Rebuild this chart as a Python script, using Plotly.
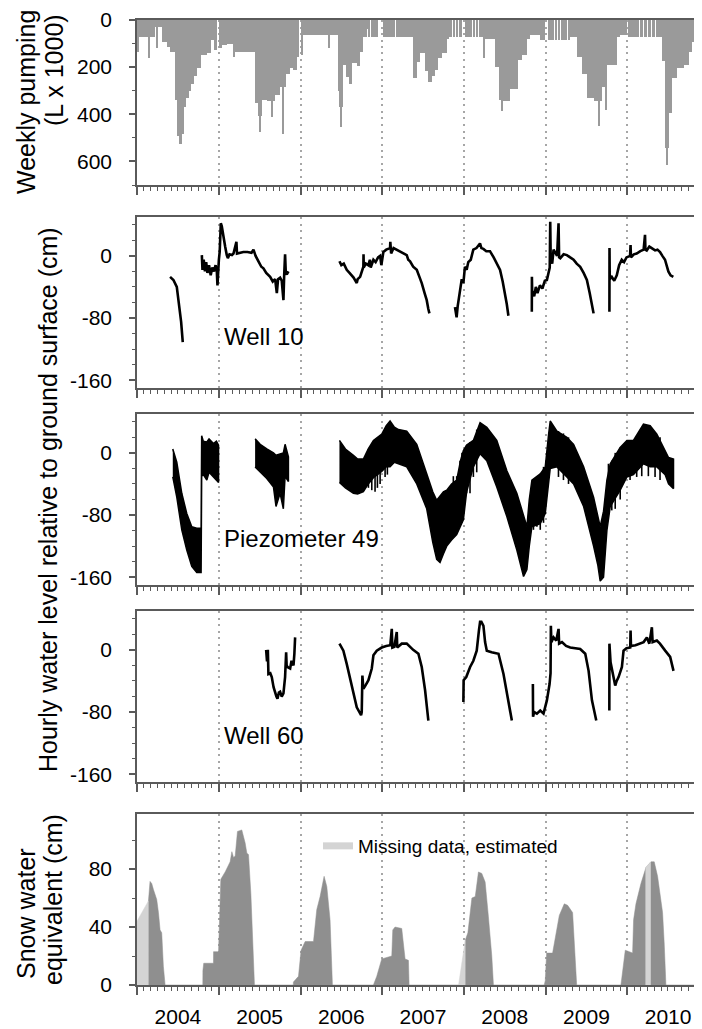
import calendar
from datetime import datetime, timedelta
import plotly.graph_objects as go

# ---------------- DATA (decimal years) ----------------
# Weekly pumping (L x 1000): start of each constant-pumping run and its value
pump_start = [
    2004.000, 2004.016, 2004.139, 2004.160, 2004.220, 2004.241, 2004.262, 2004.300, 2004.363, 2004.400,
    2004.465, 2004.486, 2004.515, 2004.547, 2004.578, 2004.600, 2004.630, 2004.660, 2004.700, 2004.735,
    2004.780, 2004.850, 2004.905, 2004.945, 2004.975,
    2005.005, 2005.036, 2005.097, 2005.175, 2005.190, 2005.444, 2005.485, 2005.500, 2005.510, 2005.526,
    2005.590, 2005.640, 2005.660, 2005.689, 2005.750, 2005.785, 2005.800, 2005.811, 2005.873, 2005.914,
    2005.954, 2005.985,
    2006.010, 2006.036, 2006.340, 2006.360, 2006.464, 2006.480, 2006.495, 2006.505, 2006.525, 2006.560,
    2006.590, 2006.628, 2006.689, 2006.730, 2006.770, 2006.811, 2006.832, 2006.850, 2006.865, 2006.885,
    2006.900, 2006.920, 2006.935, 2006.955,
    2007.015, 2007.158, 2007.170, 2007.383, 2007.424, 2007.464, 2007.525, 2007.566, 2007.607, 2007.648,
    2007.689, 2007.730, 2007.790, 2007.820, 2007.830, 2007.852, 2007.865, 2007.895, 2007.905, 2007.935,
    2007.950, 2007.974,
    2008.015, 2008.035, 2008.045, 2008.070, 2008.080, 2008.105, 2008.115, 2008.140, 2008.150, 2008.175,
    2008.185, 2008.210, 2008.220, 2008.240, 2008.250, 2008.380, 2008.424, 2008.464, 2008.485, 2008.566,
    2008.668, 2008.709, 2008.770, 2008.811, 2008.934, 2008.995,
    2009.036, 2009.060, 2009.070, 2009.100, 2009.110, 2009.140, 2009.150, 2009.180, 2009.190, 2009.220,
    2009.230, 2009.260, 2009.270, 2009.301, 2009.383, 2009.444, 2009.505, 2009.587, 2009.648, 2009.660,
    2009.689, 2009.730, 2009.745, 2009.873, 2009.913, 2009.995,
    2010.010, 2010.040, 2010.050, 2010.090, 2010.100, 2010.140, 2010.150, 2010.190, 2010.200, 2010.240,
    2010.250, 2010.290, 2010.300, 2010.340, 2010.350, 2010.390, 2010.400, 2010.424, 2010.464, 2010.480,
    2010.495, 2010.505, 2010.546, 2010.607, 2010.689, 2010.750, 2010.791, 2010.852, 2010.880, 2010.895,
]
pump_val = [
    134, 73, 160, 73, 28, 118, 28, 95, 115, 135,
    340, 490, 525, 484, 367, 333, 300, 270, 237, 203,
    148, 141, 86, 127, 0,
    120, 107, 100, 155, 134, 353, 408, 477, 408, 340,
    345, 410, 345, 320, 285, 484, 285, 230, 203, 210,
    155, 0,
    148, 63, 120, 63, 300, 367, 456, 367, 190, 240,
    270, 182, 196, 134, 73, 38, 73, 0, 73, 0,
    73, 0, 73, 0,
    73, 0, 73, 244, 180, 141, 216, 264, 237, 210,
    160, 140, 80, 0, 73, 0, 73, 0, 73, 0,
    73, 0,
    73, 0, 73, 0, 73, 0, 73, 0, 73, 0,
    73, 0, 73, 160, 80, 200, 340, 388, 345, 292,
    168, 150, 80, 65, 86, 0,
    86, 0, 86, 0, 86, 0, 86, 0, 86, 0,
    86, 0, 86, 70, 155, 230, 333, 345, 450, 345,
    285, 380, 190, 73, 65, 0,
    70, 0, 70, 0, 70, 0, 70, 0, 70, 0,
    70, 0, 70, 0, 70, 0, 70, 175, 545, 614,
    545, 394, 244, 203, 190, 134, 93, 59, 0, 59,
]
pump_end = 2010.930

# Well 10 hourly level (cm), None separates gaps
w10_t = [2004.404, 2004.420, 2004.445, 2004.486, 2004.518, 2004.539, 2004.559, None,
         2004.792, 2004.800, 2004.815, 2004.830, 2004.845, 2004.860, 2004.880, 2004.900, 2004.920, 2004.940,
         2004.960, 2004.975, 2004.983, 2004.990, 2005.000, 2005.010, 2005.024, 2005.036, 2005.057, 2005.077,
         2005.097, 2005.110, 2005.130, 2005.160, 2005.179, 2005.215, 2005.222, 2005.260, 2005.300, 2005.350,
         2005.400, 2005.424, 2005.450, 2005.485, 2005.520, 2005.546, 2005.580, 2005.628, 2005.660, 2005.689,
         2005.710, 2005.725, 2005.750, 2005.770, 2005.791, 2005.800, 2005.811, 2005.820, 2005.832, 2005.852, None,
         2006.477, 2006.500, 2006.530, 2006.566, 2006.600, 2006.650, 2006.689, 2006.700, 2006.730, 2006.750,
         2006.770, 2006.772, 2006.775, 2006.800, 2006.830, 2006.850, 2006.860, 2006.893, 2006.920, 2006.950,
         2006.975, 2006.990, 2007.015, 2007.050, 2007.097, 2007.100, 2007.110, 2007.140, 2007.179, 2007.220,
         2007.260, 2007.301, 2007.320, 2007.342, 2007.380, 2007.424, 2007.460, 2007.485, 2007.520, 2007.546,
         2007.565, 2007.579, None,
         2007.892, 2007.905, 2007.912, 2007.925, 2007.953, 2007.975, 2007.995, 2008.014, 2008.035, 2008.055,
         2008.085, 2008.116, 2008.155, 2008.198, 2008.215, 2008.239, 2008.275, 2008.320, 2008.365, 2008.402,
         2008.443, 2008.475, 2008.504, 2008.525, 2008.545, None,
         2008.831, 2008.832, 2008.835, 2008.860, 2008.880, 2008.900, 2008.930, 2008.960, 2008.990, 2009.015,
         2009.035, 2009.050, 2009.056, 2009.062, 2009.080, 2009.097, 2009.140, 2009.158, 2009.165, 2009.179,
         2009.220, 2009.260, 2009.300, 2009.342, 2009.380, 2009.423, 2009.465, 2009.505, 2009.540, 2009.587, None,
         2009.781, 2009.782, 2009.785, 2009.810, 2009.840, 2009.871, 2009.900, 2009.932, 2009.960, 2009.990,
         2010.034, 2010.040, 2010.045, 2010.080, 2010.115, 2010.160, 2010.200, 2010.217, 2010.222, 2010.238,
         2010.270, 2010.299, 2010.340, 2010.370, 2010.401, 2010.430, 2010.462, 2010.503, 2010.530, 2010.564]
w10_v = [-27, -29, -31, -40, -65, -85, -111, None,
         1, -18, -5, -20, -8, -22, -12, -25, -15, -20,
         -12, -20, -38, -15, -5, 5, 42, 38, 22, 12,
         1, -3, 2, 1, 3, 18, 3, 4, 5, 5,
         4, 8, 0, -7, -14, -16, -22, -27, -33, -30,
         -48, -30, -28, -32, -57, -25, 2, -22, -24, -20, None,
         -7, -12, -10, -18, -22, -28, -35, -30, -27, -20,
         -14, 2, -15, -10, -12, -5, -15, -5, -8, -2,
         0, -12, 5, 8, 10, 18, 3, 10, 8, 6,
         4, 1, -5, -7, -14, -18, -28, -35, -48, -57,
         -68, -74, None,
         -66, -75, -79, -65, -44, -30, -35, -14, -18, -8,
         -5, 8, 10, 16, 10, 9, 6, 6, -2, -10,
         -18, -33, -48, -62, -77, None,
         -72, -27, -45, -52, -40, -48, -38, -42, -32, -31,
         -22, -15, 44, -5, -10, 8, 0, 42, -2, -3,
         2, 1, -2, -5, -10, -14, -22, -31, -48, -74, None,
         -72, 10, -30, -27, -32, -25, -12, -5, -8, -2,
         0, 14, -2, 2, 3, 6, 8, 27, 8, 7,
         12, 10, 7, 8, 5, 0, -5, -20, -25, -27]

# Piezometer 49: envelope of hourly fluctuation (upper / lower), None separates gaps
pz_t = [2004.437, 2004.486, 2004.547, 2004.608, 2004.669, 2004.730, 2004.783, 2004.790, 2004.810, 2004.853,
        2004.880, 2004.934, 2004.970, 2004.996, None,
        2005.444, 2005.506, 2005.587, 2005.669, 2005.700, 2005.750, 2005.790, 2005.811, 2005.852, None,
        2006.477, 2006.550, 2006.648, 2006.700, 2006.770, 2006.830, 2006.893, 2006.995, 2007.050, 2007.097,
        2007.150, 2007.200, 2007.301, 2007.424, 2007.546, 2007.620, 2007.668, 2007.709, 2007.750, 2007.791,
        2007.850, 2007.913, 2007.960, 2007.995, 2008.035, 2008.117, 2008.199, 2008.281, 2008.403, 2008.526,
        2008.648, 2008.700, 2008.730, 2008.771, 2008.800, 2008.832, 2008.934, 2008.995, 2009.036, 2009.056,
        2009.138, 2009.260, 2009.342, 2009.465, 2009.587, 2009.640, 2009.668, 2009.709, 2009.750, 2009.791,
        2009.913, 2009.995, 2010.075, 2010.198, 2010.280, 2010.362, 2010.464, 2010.505, 2010.566]
pz_hi = [5, -12, -52, -78, -95, -97, -97, 22, 15, 14,
         18, 12, 15, 10, None,
         18, 11, 5, 0, -3, -1, 0, 11, -5, None,
         16, 5, -3, -8, -8, 5, 16, 24, 35, 41,
         33, 30, 28, 11, -27, -50, -61, -55, -50, -48,
         -40, -35, -10, 3, 10, 16, 39, 33, 16, -23,
         -52, -70, -82, -95, -60, -35, -27, -18, 24, 41,
         28, 20, 11, -18, -57, -80, -95, -75, -35, -14,
         7, 16, 16, 37, 35, 24, 3, -6, -8]
pz_lo = [-31, -57, -99, -125, -146, -154, -154, -30, -28, -35,
         -25, -30, -35, -38, None,
         -18, -25, -33, -44, -69, -52, -72, -30, -37, None,
         -38, -45, -52, -53, -50, -40, -32, -24, -18, -18,
         -12, -14, -18, -40, -72, -115, -137, -141, -130, -120,
         -112, -105, -95, -86, -50, -18, -1, -10, -44, -82,
         -125, -145, -159, -150, -120, -95, -91, -78, -40, -20,
         -18, -31, -40, -69, -120, -145, -165, -160, -100, -69,
         -48, -31, -28, -14, -18, -18, -28, -40, -46]
# Piezometer 49: individual downward spikes (time, top, bottom)
pz_spk_t = [2006.832, 2006.873, 2006.913, 2006.942, 2006.975, 2007.036, 2007.064, 2007.872, 2007.913, 2007.954,
            2007.978, 2008.035, 2008.076, 2008.117, 2008.158, 2008.851, 2008.893, 2008.934, 2008.974, 2009.157,
            2009.218, 2009.280, 2009.769, 2009.810, 2009.852, 2009.913, 2010.034, 2010.115, 2010.177, 2010.258,
            2010.340, 2010.401]
pz_spk_hi = [5, 10, 16, 18, 22, 30, 35, -30, -30, -10,
             0, 10, 14, 16, 30, -35, -30, -27, -18, 28,
             25, 20, -14, -10, 0, 7, 16, 20, 30, 35,
             25, 20]
pz_spk_lo = [-45, -48, -50, -45, -40, -31, -28, -99, -99, -95,
             -90, -52, -52, -31, -25, -99, -95, -99, -90, -31,
             -35, -40, -74, -74, -72, -60, -35, -31, -30, -30,
             -31, -35]

# Well 60 hourly level (cm)
w60_t = [2005.579, 2005.590, 2005.600, 2005.607, 2005.630, 2005.648, 2005.670, 2005.689, 2005.705, 2005.718,
         2005.735, 2005.750, 2005.770, 2005.791, 2005.805, 2005.811, 2005.824, 2005.830, 2005.840, 2005.873,
         2005.890, 2005.914, 2005.925, 2005.934, None,
         2006.477, 2006.500, 2006.525, 2006.566, 2006.628, 2006.689, 2006.742, 2006.750, 2006.758, 2006.770,
         2006.800, 2006.832, 2006.873, 2006.893, 2006.934, 2006.995, 2007.050, 2007.100, 2007.118, 2007.125,
         2007.150, 2007.179, 2007.185, 2007.240, 2007.301, 2007.380, 2007.444, 2007.485, 2007.526, 2007.566, None,
         2007.995, 2007.998, 2008.030, 2008.077, 2008.117, 2008.158, 2008.185, 2008.199, 2008.215, 2008.240,
         2008.260, 2008.281, 2008.340, 2008.424, 2008.485, 2008.526, 2008.587, None,
         2008.844, 2008.846, 2008.860, 2008.893, 2008.934, 2008.974, 2009.015, 2009.048, 2009.060, 2009.064,
         2009.070, 2009.097, 2009.130, 2009.158, 2009.165, 2009.200, 2009.250, 2009.301, 2009.360, 2009.423,
         2009.485, 2009.526, 2009.567, 2009.620, None,
         2009.780, 2009.781, 2009.795, 2009.830, 2009.852, 2009.870, 2009.893, 2009.934, 2009.954, 2009.990,
         2010.036, 2010.040, 2010.045, 2010.100, 2010.158, 2010.200, 2010.240, 2010.270, 2010.301, 2010.310,
         2010.362, 2010.400, 2010.464, 2010.525, 2010.566]
w60_v = [0, -15, 0, -31, -30, -35, -48, -56, -60, -63,
         -55, -54, -60, -56, -45, -35, -3, -20, -22, -24,
         -14, -20, -5, 16, None,
         8, 3, -1, -18, -48, -74, -84, -80, -33, -50,
         -45, -39, -24, -7, -1, 3, 5, 6, 27, 3,
         4, 23, 3, 8, 8, 0, -5, -22, -52, -91, None,
         -67, -39, -35, -22, -14, -1, 25, 36, 36, 31,
         10, -1, -3, -5, -31, -56, -91, None,
         -44, -86, -80, -82, -78, -82, -65, -44, -30, 31,
         10, 16, 12, 27, 8, 10, 5, 3, 2, 1,
         -5, -27, -65, -91, None,
         -78, 8, -16, -35, -46, -40, -35, -22, -1, 2,
         3, 25, 5, 6, 8, 10, 16, 8, 29, 10,
         12, 8, -1, -9, -27]

# Snow water equivalent (cm), measured
snow_t = [2004.139, 2004.140, 2004.159, 2004.180, 2004.200, 2004.241, 2004.262, 2004.282, 2004.302, 2004.322,
          2004.343, 2004.804, 2004.805, 2004.815, 2004.934, 2004.935, 2004.996, 2005.024, 2005.077, 2005.138,
          2005.159, 2005.180, 2005.200, 2005.228, 2005.281, 2005.322, 2005.343, 2005.363, 2005.392, 2005.416,
          2005.436, 2005.912, 2005.913, 2005.975, 2006.007, 2006.057, 2006.159, 2006.199, 2006.240, 2006.289,
          2006.322, 2006.362, 2006.391, 2006.893, 2006.934, 2006.995, 2007.118, 2007.130, 2007.158, 2007.240,
          2007.260, 2007.281, 2007.322, 2007.330, 2008.018, 2008.019, 2008.050, 2008.099, 2008.140, 2008.179,
          2008.220, 2008.261, 2008.301, 2008.342, 2008.362, 2008.983, 2008.995, 2009.012, 2009.085, 2009.167,
          2009.228, 2009.269, 2009.330, 2009.371, 2009.380, 2009.922, 2009.975, 2010.024, 2010.065, 2010.077,
          2010.106, 2010.167, 2010.228, 2010.290, 2010.330, 2010.371, 2010.432, 2010.452, 2010.473, 2010.910,
          2010.930]
snow_v = [0, 58, 71.5, 70, 66, 59, 50, 38, 36, 13,
          0, 0, 10, 15, 15, 23, 23, 73, 78, 85,
          92, 88, 89, 106, 107, 98, 91, 90, 63, 31,
          0, 0, 2, 6, 24, 30, 30, 52, 61, 75,
          68, 45, 0, 0, 6, 18, 20, 38, 40, 39,
          28, 18, 17, 0, 0, 31, 36, 60, 61, 78,
          77, 71, 47, 20, 0, 0, 3, 22, 22, 48,
          56, 55, 50, 1, 0, 0, 24, 23, 22, 45,
          56, 70, 81, 85, 85, 75, 50, 29, 0, 0,
          18]
# Snow water equivalent (cm), missing data estimated
est_t = [2004.000, 2004.139, None, 2007.936, 2008.018, None, 2010.222, 2010.288]
est_v = [44, 58, None, 0, 31, None, 81, 85]

year_ticks_start = 2004.0
x_end = 2011.013
y_ticks_level = [-160, -80, 0]
y_ticks_level_text = ['-160', '-80', '0']

# ---------------- HELPERS ----------------
def to_dt(v):
    y = int(v)
    days = 366 if calendar.isleap(y) else 365
    return datetime(y, 1, 1) + timedelta(days=(v - y) * days)

def yd(v):
    return None if v is None else to_dt(v).strftime('%Y-%m-%d %H:%M:%S')

def split(ts, *vals):
    segs, cur = [], [[] for _ in range(len(vals) + 1)]
    for i, t in enumerate(ts):
        if t is None:
            segs.append(cur)
            cur = [[] for _ in range(len(vals) + 1)]
        else:
            cur[0].append(t)
            for k, v in enumerate(vals):
                cur[k + 1].append(v[i])
    if cur[0]:
        segs.append(cur)
    return segs

FONT = "Arial, 'Liberation Sans', sans-serif"
AX = '#5a5a5a'
BAR = '#9a9a9a'
SNOW = '#8f8f8f'
EST = '#d4d4d4'

fig = go.Figure()

# Pumping bars
ends = pump_start[1:] + [pump_end]
bx, bw = [], []
for s, e in zip(pump_start, ends):
    ds, de = to_dt(s), to_dt(e)
    bx.append((ds + (de - ds) / 2).strftime('%Y-%m-%d %H:%M:%S'))
    bw.append((de - ds).total_seconds() * 1000)
fig.add_trace(go.Bar(x=bx, y=pump_val, width=bw, marker=dict(color=BAR, line=dict(width=0)),
                     xaxis='x', yaxis='y', showlegend=False, hoverinfo='skip'))

# Well 10
fig.add_trace(go.Scatter(x=[yd(t) for t in w10_t], y=w10_v, mode='lines',
                         line=dict(color='black', width=2.6), connectgaps=False,
                         xaxis='x2', yaxis='y2', showlegend=False))

# Piezometer 49 band
for seg_t, seg_hi, seg_lo in split(pz_t, pz_hi, pz_lo):
    xs = [yd(t) for t in seg_t] + [yd(t) for t in seg_t[::-1]]
    ys = list(seg_hi) + list(seg_lo[::-1])
    fig.add_trace(go.Scatter(x=xs, y=ys, mode='lines', fill='toself', fillcolor='black',
                             line=dict(color='black', width=1.5), xaxis='x3', yaxis='y3', showlegend=False))
sx, sy = [], []
for t, h, l in zip(pz_spk_t, pz_spk_hi, pz_spk_lo):
    sx += [yd(t), yd(t), None]
    sy += [h, l, None]
fig.add_trace(go.Scatter(x=sx, y=sy, mode='lines', line=dict(color='black', width=1.6),
                         xaxis='x3', yaxis='y3', showlegend=False))

# Well 60
fig.add_trace(go.Scatter(x=[yd(t) for t in w60_t], y=w60_v, mode='lines',
                         line=dict(color='black', width=2.6), connectgaps=False,
                         xaxis='x4', yaxis='y4', showlegend=False))

# Snow
fig.add_trace(go.Scatter(x=[yd(t) for t in snow_t], y=snow_v, mode='lines', fill='tozeroy',
                         fillcolor=SNOW, line=dict(color=SNOW, width=0.5),
                         xaxis='x5', yaxis='y5', showlegend=False))
for seg_t, seg_v in split(est_t, est_v):
    fig.add_trace(go.Scatter(x=[yd(t) for t in seg_t], y=seg_v, mode='lines', fill='tozeroy',
                             fillcolor=EST, line=dict(color=EST, width=0.5),
                             xaxis='x5', yaxis='y5', showlegend=False))
fig.add_trace(go.Scatter(x=[None], y=[None], mode='lines', line=dict(color=EST, width=7),
                         name='Missing data, estimated', xaxis='x5', yaxis='y5', showlegend=True))

# ---------------- LAYOUT ----------------
# The page shows the figure offset by the default 8px body margin; all pixel
# positions below are page pixels, converted to figure/paper coordinates.
OFF = 8
PLOT_L, PLOT_T, PLOT_B = 137, 20, 985          # page pixels
FIG_W, FIG_H = 702, 1029
M_L = PLOT_L - OFF
M_T = PLOT_T - OFF
M_B = FIG_H - (PLOT_B - OFF)
PLOT_W = FIG_W - M_L
PLOT_H = PLOT_B - PLOT_T

def frac(py):
    return (PLOT_B - py) / PLOT_H

def px_x(px):
    return (px - PLOT_L) / PLOT_W

domains = [(frac(185), frac(20)), (frac(388), frac(217)), (frac(585), frac(414)),
           (frac(782), frac(611)), (frac(985), frac(814))]

def xaxis(anchor, labels):
    d = dict(type='date', range=[yd(year_ticks_start), yd(x_end)], anchor=anchor, automargin=False,
             dtick='M12', tick0='2004-01-01', ticks='outside', ticklen=8, tickwidth=1.5, tickcolor=AX,
             showline=True, linecolor=AX, linewidth=1.5, mirror=True,
             showgrid=True, gridcolor='#a6a6a6', gridwidth=2, griddash='2px,4.5px',
             zeroline=False,
             minor=dict(dtick='M1', tick0='2004-01-01', ticks='outside', ticklen=4, tickwidth=1,
                        tickcolor=AX, showgrid=False),
             showticklabels=labels, ticklabeloverflow='allow')
    if labels:
        d.update(ticklabelmode='period', tickformat='%Y', tickfont=dict(size=21, color='black'),
                 ticklabelstandoff=4)
    return d

def yaxis(anchor, dom, rng, dtick, mdtick, tickvals=None, ticktext=None):
    d = dict(domain=list(dom), anchor=anchor, range=rng, dtick=dtick, tick0=0, automargin=False,
             ticks='outside', ticklen=6, tickwidth=1.5, tickcolor=AX,
             showline=True, linecolor=AX, linewidth=1.5, showgrid=False, zeroline=False,
             tickfont=dict(size=21, color='black'), ticklabelstandoff=13, ticklabeloverflow='allow',
             minor=dict(dtick=mdtick, tick0=0, ticks='outside', ticklen=3, tickwidth=1,
                        tickcolor=AX, showgrid=False))
    if tickvals is not None:
        d.update(tickmode='array', tickvals=tickvals, ticktext=ticktext)
    return d

layout = dict(
    width=FIG_W, height=FIG_H,
    margin=dict(l=M_L, r=0, t=M_T, b=M_B, autoexpand=False),
    paper_bgcolor='white', plot_bgcolor='white',
    font=dict(family=FONT, color='black'),
    bargap=0,
    xaxis=xaxis('y', False), xaxis2=xaxis('y2', False), xaxis3=xaxis('y3', False),
    xaxis4=xaxis('y4', False), xaxis5=xaxis('y5', True),
    yaxis=yaxis('x', domains[0], [700, 0], 200, 100),
    yaxis2=yaxis('x2', domains[1], [-170, 50], 80, 20, y_ticks_level, y_ticks_level_text),
    yaxis3=yaxis('x3', domains[2], [-170, 50], 80, 20, y_ticks_level, y_ticks_level_text),
    yaxis4=yaxis('x4', domains[3], [-170, 50], 80, 20, y_ticks_level, y_ticks_level_text),
    yaxis5=yaxis('x5', domains[4], [0, 118], 40, 20),
    legend=dict(x=px_x(318), y=frac(846), xanchor='left', yanchor='middle',
                font=dict(size=19, color='black'), bgcolor='rgba(0,0,0,0)', borderwidth=0),
)
fig.update_layout(**layout)

# axis titles (page-pixel centres), one annotation per text line
titles = [
    ('Weekly pumping', 26, 102),
    ('(L x 1000)', 54, 70),
    ('Hourly water level relative to ground surface (cm)', 48, 500),
    ('Snow water', 26, 914),
    ('equivalent (cm)', 53, 900),
]
ann = []
for txt, cx, cy in titles:
    ann.append(dict(text=txt, x=px_x(cx), y=frac(cy), textangle=-90, xref='paper', yref='paper',
                    xanchor='center', yanchor='middle', showarrow=False, font=dict(size=25)))
labels = [('Well 10', 336), ('Piezometer 49', 538), ('Well 60', 735)]
for txt, py in labels:
    ann.append(dict(text=txt, x=px_x(222), y=frac(py), xref='paper', yref='paper', xanchor='left',
                    yanchor='middle', showarrow=False, font=dict(size=24)))
fig.update_layout(annotations=ann)

fig.write_html('out.html')
